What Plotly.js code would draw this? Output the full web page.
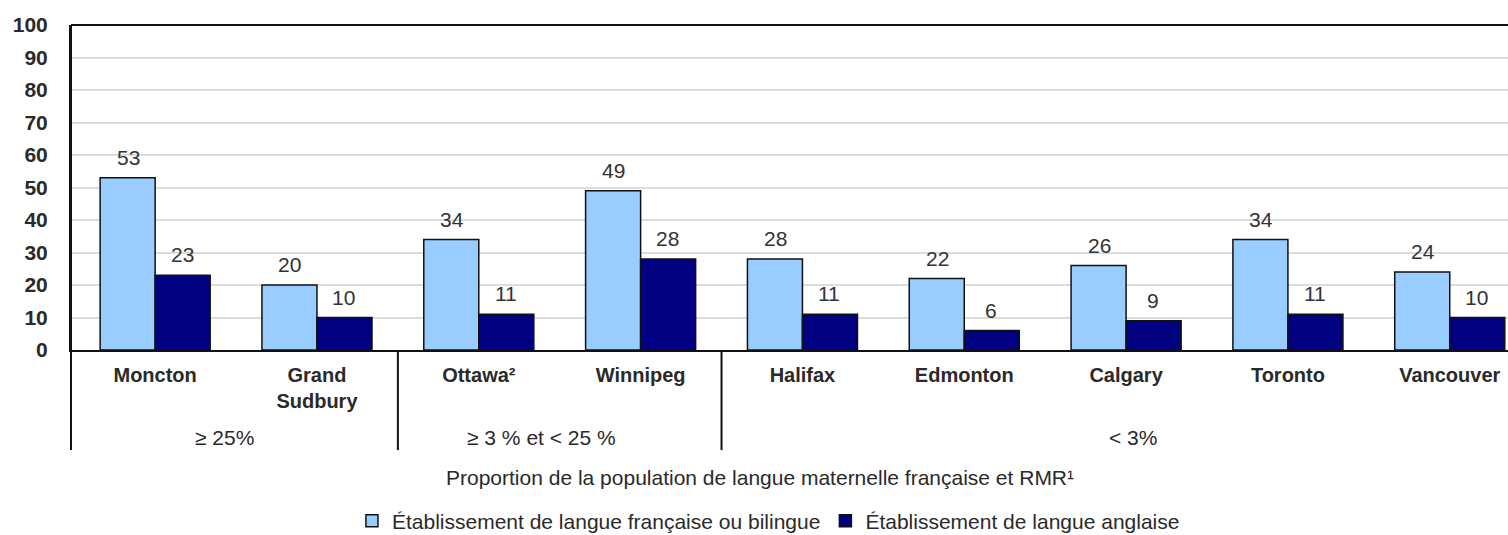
<!DOCTYPE html>
<html>
<head>
<meta charset="utf-8">
<script src="https://cdn.plot.ly/plotly-3.0.1.min.js"></script>
<style>html,body{margin:0;padding:0;background:#fff;}#chart{width:1508px;height:535px;}</style>
</head>
<body>
<div id="chart"></div>
<script>
const categories = ["Moncton", "Grand<br>Sudbury", "Ottawa²", "Winnipeg", "Halifax", "Edmonton", "Calgary", "Toronto", "Vancouver"];
const frenchValues = [53, 20, 34, 49, 28, 22, 26, 34, 24];
const englishValues = [23, 10, 11, 28, 11, 6, 9, 11, 10];
const seriesNames = ["Établissement de langue française ou bilingue", "Établissement de langue anglaise"];
const groupLabels = ["≥ 25%", "≥ 3 % et < 25 %", "< 3%"];
const groupCenters = [0.43, 2.39, 6.04];
const groupDividers = [1.5, 3.5];
const yTicks = [0, 10, 20, 30, 40, 50, 60, 70, 80, 90, 100];
const axisTitle = "Proportion de la population de langue maternelle française et RMR¹";

const FONT = '"Liberation Sans", Arial, sans-serif';
const TXT = '#2a2a2a';
const xIdx = categories.map((c, i) => i);

const traces = [
  {type: 'bar', x: xIdx, y: frenchValues, name: seriesNames[0],
   marker: {color: '#99CCFF', line: {color: '#111', width: 1.5}}},
  {type: 'bar', x: xIdx, y: englishValues, name: seriesNames[1],
   marker: {color: '#000080', line: {color: '#111', width: 1.5}}}
];

const annotations = [];
frenchValues.forEach((v, i) => annotations.push({x: i, y: v, xref: 'x', yref: 'y', text: String(v),
  showarrow: false, xshift: -27, yanchor: 'bottom', yshift: 7, font: {family: FONT, size: 21, color: '#333'}}));
englishValues.forEach((v, i) => annotations.push({x: i, y: v, xref: 'x', yref: 'y', text: String(v),
  showarrow: false, xshift: 27, yanchor: 'bottom', yshift: 7, font: {family: FONT, size: 21, color: '#333'}}));
groupLabels.forEach((t, k) => annotations.push({x: groupCenters[k], y: -0.268, xref: 'x', yref: 'paper', text: t,
  showarrow: false, yanchor: 'middle', font: {family: FONT, size: 21, color: TXT}}));
annotations.push({x: 0.4795, y: -0.391, xref: 'paper', yref: 'paper', text: axisTitle, showarrow: false,
  yanchor: 'middle', font: {family: FONT, size: 21, color: TXT}});

const shapes = [
  {type: 'line', xref: 'paper', yref: 'paper', x0: 0, x1: 1, y0: 1, y1: 1, line: {color: '#111', width: 2}},
  {type: 'line', xref: 'paper', yref: 'paper', x0: 0, x1: 0, y0: 1, y1: -0.308, line: {color: '#111', width: 2}}
];
groupDividers.forEach(d => shapes.push({type: 'line', xref: 'x', yref: 'paper', x0: d, x1: d, y0: 0, y1: -0.308,
  line: {color: '#111', width: 2}}));

const layout = {
  width: 1508, height: 535,
  margin: {l: 71, r: 0, t: 25, b: 185, autoexpand: false},
  paper_bgcolor: '#fff', plot_bgcolor: '#fff',
  barmode: 'group', bargap: 0.32, bargroupgap: 0,
  showlegend: true,
  legend: {orientation: 'h', x: 0.1955, xanchor: 'left', y: -0.463, yanchor: 'top',
    font: {family: FONT, size: 21, color: TXT}, itemwidth: 30, tracegroupgap: 0},
  xaxis: {type: 'linear', range: [-0.52, 8.36], tickvals: xIdx, ticktext: categories, automargin: false,
    showgrid: false, zeroline: false, showline: true, linecolor: '#111', linewidth: 2,
    ticks: '', ticklabelstandoff: 6, tickfont: {family: FONT, size: 20, color: TXT, weight: 'bold'}},
  yaxis: {range: [0, 100], tickvals: yTicks, showgrid: true, gridcolor: '#dcdcdc', gridwidth: 2, automargin: false,
    zeroline: false, showline: true, linecolor: '#111', linewidth: 2, ticks: '', ticklabelstandoff: 17,
    tickfont: {family: FONT, size: 21, color: TXT, weight: 'bold'}},
  annotations: annotations,
  shapes: shapes,
  font: {family: FONT}
};

Plotly.newPlot('chart', traces, layout, {displayModeBar: false, staticPlot: true});
</script>
</body>
</html>
